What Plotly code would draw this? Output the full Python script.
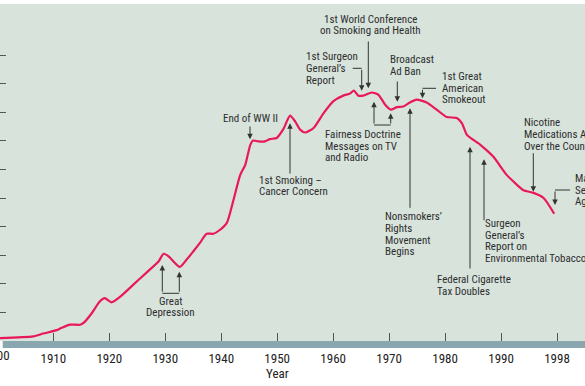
import plotly.graph_objects as go

# ---------------- data ----------------
years = [1900.0, 1906.4, 1908.2, 1910.6, 1911.5, 1913.0, 1914.8, 1915.4, 1916.9, 1918.3,
         1919.2, 1920.4, 1921.9, 1924.3, 1926.7, 1928.8, 1929.7, 1930.6, 1932.6, 1933.8,
         1935.0, 1936.2, 1937.4, 1938.6, 1939.8, 1941.0, 1942.2, 1943.4, 1944.3, 1945.2,
         1945.7, 1946.6, 1947.8, 1948.7, 1949.9, 1951.1, 1952.3, 1953.2, 1954.1, 1955.0,
         1956.5, 1958.3, 1960.0, 1961.8, 1963.0, 1963.7, 1964.5, 1965.4, 1966.9, 1968.1,
         1969.3, 1970.3, 1971.4, 1972.5, 1973.7, 1974.9, 1976.7, 1978.5, 1980.3, 1982.1,
         1983.0, 1983.9, 1986.3, 1988.6, 1991.0, 1992.8, 1994.0, 1995.8, 1997.6, 1999.5]
consumption = [48, 80, 130, 190, 230, 285, 285, 315, 490, 690,
               750, 675, 770, 985, 1200, 1390, 1525, 1480, 1295, 1420,
               1565, 1715, 1875, 1875, 1945, 2065, 2470, 2905, 3080, 3430,
               3505, 3490, 3490, 3530, 3550, 3705, 3940, 3840, 3695, 3645,
               3725, 3985, 4190, 4290, 4325, 4380, 4290, 4290, 4345, 4305,
               4130, 4045, 4090, 4100, 4170, 4220, 4170, 4045, 3915, 3900,
               3810, 3605, 3430, 3225, 2905, 2735, 2635, 2590, 2500, 2225]

x_tick_vals = [1910, 1920, 1930, 1940, 1950, 1960, 1970, 1980, 1990, 2000]
x_tick_text = ["1910", "1920", "1930", "1940", "1950", "1960", "1970", "1980", "1990", "1998"]
y_tick_vals = [500, 1000, 1500, 2000, 2500, 3000, 3500, 4000, 4500, 5000]

# ---------------- layout helpers ----------------
W, H = 585, 386
TOP, BOT = 4, 341
PH = BOT - TOP
FONT = "Liberation Sans Narrow, Arial Narrow, Roboto Condensed, DejaVu Sans Condensed, sans-serif"
TXT = "#2e2e2e"
LINE_STEP = 11.7


def PX(x):
    return x / W


def PY(y):
    return (BOT - y) / PH


fig = go.Figure()
fig.add_trace(go.Scatter(
    x=years, y=consumption, mode="lines",
    line=dict(color="#e8185a", width=2.2, shape="spline", smoothing=0.6),
    hoverinfo="skip", showlegend=False,
))

annotations = []
shapes = []


def text_block(lines, x, y_first, anchor="left", size=11):
    for i, t in enumerate(lines):
        annotations.append(dict(
            text=t, x=PX(x), y=PY(y_first + i * LINE_STEP), xref="paper", yref="paper",
            xanchor=anchor, yanchor="middle", showarrow=False,
            font=dict(family=FONT, size=size, color=TXT),
        ))


def arrow(x, tip_y, tail_y):
    annotations.append(dict(
        text="", x=PX(x), y=PY(tip_y), xref="paper", yref="paper",
        ax=0, ay=tail_y - tip_y, showarrow=True, arrowhead=2, arrowsize=1.1,
        arrowwidth=1, arrowcolor="#333333", standoff=0, startstandoff=0,
    ))


def hline(x0, x1, y):
    shapes.append(dict(type="line", xref="paper", yref="paper",
                       x0=PX(x0), x1=PX(x1), y0=PY(y), y1=PY(y),
                       line=dict(color="#333333", width=1)))


# Great Depression
text_block(["Great", "Depression"], 170, 301, anchor="center")
arrow(162.3, 265, 293.3)
arrow(179.3, 271.7, 293.3)
hline(162.3, 179.3, 293.3)

# End of WW II
text_block(["End of WW II"], 220.7, 118.3)
arrow(250, 139.3, 125)

# 1st Smoking - Cancer Concern
text_block(["1st Smoking \u2013", "Cancer Concern"], 257.3, 180)
arrow(290, 123.3, 175)

# Fairness Doctrine
text_block(["Fairness Doctrine", "Messages on TV", "and Radio"], 323.3, 134.3)
arrow(374, 101.7, 125)
arrow(390.7, 113.3, 125)
hline(374, 390.7, 125)

# 1st Surgeon General's Report
text_block(["1st Surgeon", "General\u2019s", "Report"], 304, 56.7)
arrow(361.7, 90.7, 68.3)
hline(352.7, 361.7, 68.3)

# 1st World Conference
text_block(["1st World Conference", "on Smoking and Health"], 370, 19.3, anchor="center")
arrow(368.3, 88.3, 40)

# Broadcast Ad Ban
text_block(["Broadcast", "Ad Ban"], 388.3, 59.3)
arrow(397.3, 101.7, 80)

# 1st Great American Smokeout
text_block(["1st Great", "American", "Smokeout"], 440, 76.5)
arrow(422.5, 98.3, 88.3)
hline(422.5, 436, 88.3)

# Nonsmokers' Rights Movement Begins
text_block(["Nonsmokers\u2019", "Rights", "Movement", "Begins"], 383.3, 216.7)
arrow(410, 108.3, 209.3)

# Federal Cigarette Tax Doubles
text_block(["Federal Cigarette", "Tax Doubles"], 435, 279.3)
arrow(470, 146.7, 270)

# Surgeon General's Report on ETS
text_block(["Surgeon", "General\u2019s", "Report on", "Environmental Tobacco Smoke"], 482.7, 223.3)
arrow(484, 159.3, 221.7)

# Nicotine Medications
text_block(["Nicotine", "Medications Available", "Over the Counter"], 521.7, 122.7)
arrow(533.3, 191.7, 151.7)

# Master Settlement Agreement
text_block(["Master", "Settlement", "Agreement"], 572.7, 178.3)
arrow(555, 205, 190)
hline(555, 570, 190)

# bottom band
shapes.append(dict(type="rect", xref="paper", yref="paper",
                   x0=PX(2.7), x1=1.0, y0=-7 / PH, y1=0,
                   fillcolor="#8aa6ae", line=dict(width=0), layer="above"))

# cut-off first tick label and axis title
annotations.append(dict(text="1900", x=PX(-2.66), y=PY(355), xref="paper", yref="paper",
                        xanchor="center", yanchor="middle", showarrow=False,
                        font=dict(family=FONT, size=13, color="#222222")))
annotations.append(dict(text="Year", x=PX(277), y=PY(373), xref="paper", yref="paper",
                        xanchor="center", yanchor="middle", showarrow=False,
                        font=dict(family=FONT, size=13, color="#222222")))

fig.update_layout(
    width=W, height=H,
    margin=dict(l=0, r=0, t=TOP, b=H - BOT, autoexpand=False),
    paper_bgcolor="white", plot_bgcolor="#d8e3dc",
    annotations=annotations, shapes=shapes,
    xaxis=dict(range=[1900.475, 2005.0], tickvals=x_tick_vals, ticktext=x_tick_text,
               ticks="inside", ticklen=8, tickcolor="#555555", tickwidth=1,
               showgrid=False, zeroline=False, showline=False, automargin=False,
               ticklabelstandoff=8,
               tickfont=dict(family=FONT, size=13, color="#222222")),
    yaxis=dict(range=[0, 5892], tickvals=y_tick_vals, ticks="inside", ticklen=6,
               tickcolor="#555555", tickwidth=1, showticklabels=False, automargin=False,
               showgrid=False, zeroline=False, showline=False),
)

fig.write_html("out.html",
               config={"displayModeBar": False, "staticPlot": True},
               post_script="document.body.style.margin='0';document.body.style.overflow='hidden';")
